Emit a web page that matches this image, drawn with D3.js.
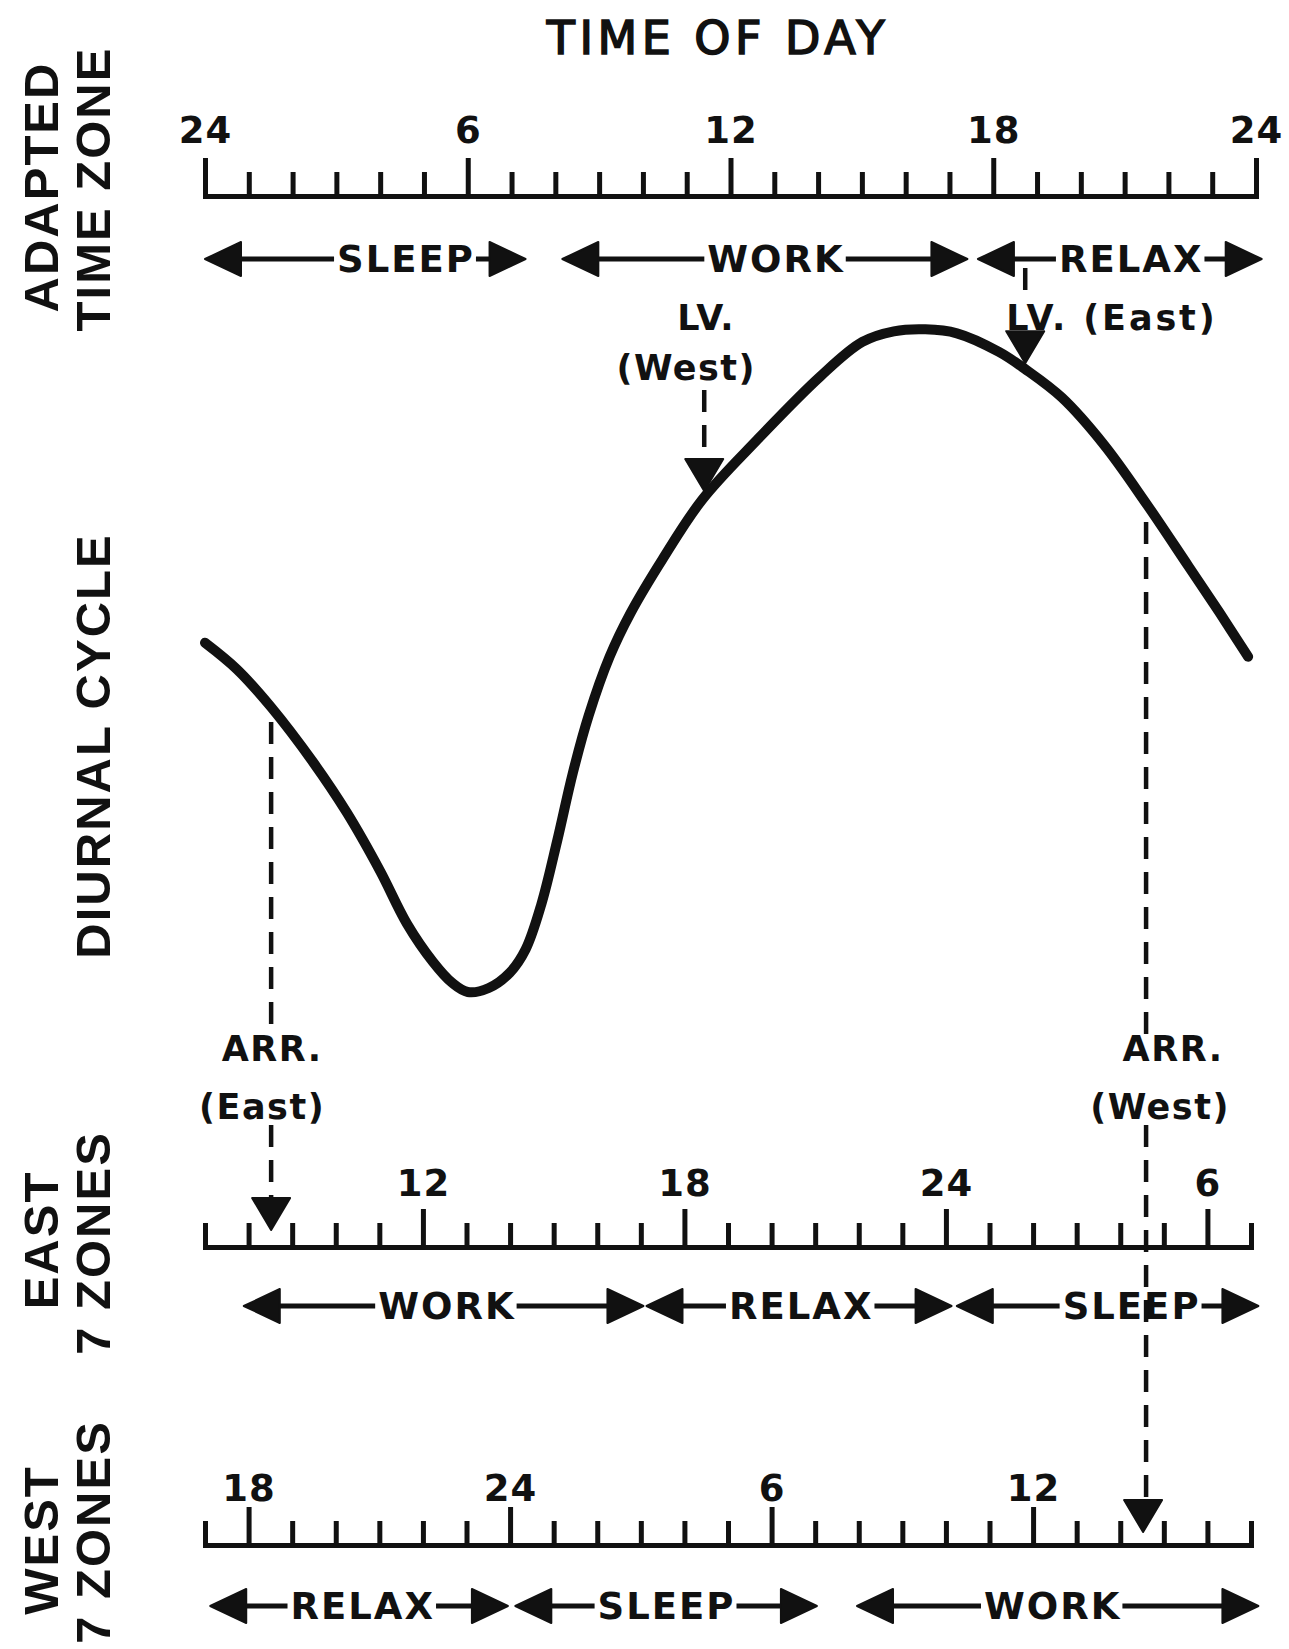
<!DOCTYPE html>
<html>
<head>
<meta charset="utf-8">
<script src="https://cdn.jsdelivr.net/npm/d3@7"></script>
<style>
  body { margin: 0; background: #fff; }
  svg { display: block; }
</style>
</head>
<body>
<svg></svg>
<script>
// diurnal curve (hour in adapted zone, relative level 0-100)
var curveHours  = [0, 0.73, 1.51, 2.47, 3.24, 4.0, 4.61, 5.21, 5.64, 6.0, 6.48, 6.96, 7.32, 7.68, 8.04, 8.40, 8.76, 9.24, 9.72, 10.45, 11.36, 12.6, 14.05, 15.01, 15.73, 16.45, 17.17, 18.13, 18.73, 19.57, 20.53, 21.49, 22.45, 23.17, 23.82];
var curveLevels = [52.6, 48.6, 42.9, 34.6, 27.0, 18.2, 10.3, 4.5, 1.4, 0, 0.6, 2.9, 6.4, 13.2, 22.7, 33.0, 41.6, 50.5, 57.1, 65.2, 74.2, 83.1, 92.7, 97.9, 99.5, 99.8, 99.2, 96.4, 93.8, 89.5, 82.4, 73.6, 64.2, 57.1, 50.5];

// hour scales of the three clocks
var adaptedTicks = [0, 6, 12, 18, 24];
var adaptedTickLabels = ["24", "6", "12", "18", "24"];
var eastTicks = [12, 18, 24, 30];
var eastTickLabels = ["12", "18", "24", "6"];
var westTicks = [18, 24, 30, 36];
var westTickLabels = ["18", "24", "6", "12"];

// activity bands (local hours: start, end, where the word sits)
var adaptedActs  = ["SLEEP", "WORK", "RELAX"];
var adaptedStart = [0, 8.16, 17.65];
var adaptedEnd   = [7.32, 17.41, 24.13];
var adaptedMid   = [4.59, 13.04, 21.15];

var eastActs  = ["WORK", "RELAX", "SLEEP"];
var eastStart = [7.89, 17.13, 24.25];
var eastEnd   = [17.06, 24.13, 31.17];
var eastMid   = [12.55, 20.68, 28.26];

var westActs  = ["RELAX", "SLEEP", "WORK"];
var westStart = [17.12, 24.12, 31.96];
var westEnd   = [23.95, 31.04, 41.17];
var westMid   = [20.62, 27.59, 36.45];

// departure / arrival marks, in adapted hours
var eventNames = ["LV. (West)", "LV. (East)", "ARR. (East)", "ARR. (West)"];
var eventHours = [11.4, 18.73, 1.51, 21.49];

var W = 1289, H = 1649;
var ink = "#111";
var labelFont = "'DejaVu Sans', sans-serif";
var sideFont = "'Liberation Sans', Arial, sans-serif";

var svg = d3.select("svg").attr("width", W).attr("height", H);
svg.append("rect").attr("width", W).attr("height", H).attr("fill", "#fff");

var x = d3.scaleLinear().domain([0, 24]).range([205, 1256]);
var xEast = d3.scaleLinear().domain([7, 31]).range([205, 1251]);
var xWest = d3.scaleLinear().domain([17, 41]).range([205, 1251]);
var y = d3.scaleLinear().domain([0, 100]).range([992, 328]);

// title
svg.append("text")
  .attr("x", 718).attr("y", 37).attr("dy", "0.36em")
  .attr("text-anchor", "middle")
  .attr("font-family", labelFont)
  .attr("font-size", 46).attr("letter-spacing", 4.5)
  .attr("fill", ink).attr("stroke", ink).attr("stroke-width", 1.6)
  .text("TIME OF DAY");

// side labels
function sideLabel(txt, bx, cy) {
  svg.append("text")
    .attr("transform", "translate(" + bx + "," + cy + ") rotate(-90)")
    .attr("text-anchor", "middle")
    .attr("font-family", sideFont).attr("font-weight", "bold")
    .attr("font-size", 49).attr("letter-spacing", 2)
    .attr("fill", ink)
    .text(txt);
}
sideLabel("ADAPTED", 58, 187);
sideLabel("TIME ZONE", 110, 189);
sideLabel("DIURNAL CYCLE", 110, 746);
sideLabel("EAST", 58, 1240);
sideLabel("7 ZONES", 110, 1243);
sideLabel("WEST", 58, 1540);
sideLabel("7 ZONES", 110, 1532);

// hour rulers
function drawAxis(scale, baseY, ticks, labels, labelY) {
  var dom = scale.domain();
  var ax = d3.axisTop(scale)
    .tickValues(d3.range(dom[0], dom[1] + 1))
    .tickSizeOuter(0)
    .tickFormat(function(d) {
      var i = ticks.indexOf(d);
      return i < 0 ? "" : labels[i];
    });
  var g = svg.append("g").attr("transform", "translate(0," + baseY + ")").call(ax);
  g.select(".domain").attr("stroke", ink).attr("stroke-width", 5).attr("stroke-linecap", "square");
  g.selectAll(".tick line")
    .attr("stroke", ink).attr("stroke-width", 5)
    .attr("y2", function(d) { return ticks.indexOf(d) >= 0 ? -38 : -24; });
  g.selectAll(".tick text")
    .attr("y", labelY - baseY).attr("dy", "0.36em")
    .attr("font-family", labelFont).attr("font-weight", "bold")
    .attr("font-size", 37).attr("letter-spacing", 1)
    .attr("fill", ink);
  return g;
}
drawAxis(x, 196, adaptedTicks, adaptedTickLabels, 130);
drawAxis(xEast, 1247, eastTicks, eastTickLabels, 1183);
drawAxis(xWest, 1545, westTicks, westTickLabels, 1488);

// activity arrows
function drawActivities(scale, rowY, names, starts, ends, mids) {
  var head = 36, half = 17, gap = 3;
  names.forEach(function(name, i) {
    var g = svg.append("g");
    var t = g.append("text")
      .attr("x", scale(mids[i])).attr("y", rowY).attr("dy", "0.36em")
      .attr("text-anchor", "middle")
      .attr("font-family", labelFont).attr("font-weight", "bold")
      .attr("font-size", 37).attr("letter-spacing", 2)
      .attr("fill", ink)
      .text(name);
    var bb = t.node().getBBox();
    var x1 = scale(starts[i]), x2 = scale(ends[i]);
    g.append("line")
      .attr("x1", x1 + head - 2).attr("x2", bb.x - gap)
      .attr("y1", rowY).attr("y2", rowY)
      .attr("stroke", ink).attr("stroke-width", 5);
    g.append("line")
      .attr("x1", bb.x + bb.width + gap - 2).attr("x2", x2 - head + 2)
      .attr("y1", rowY).attr("y2", rowY)
      .attr("stroke", ink).attr("stroke-width", 5);
    g.append("path")
      .attr("d", "M" + x1 + "," + rowY + "L" + (x1 + head) + "," + (rowY - half) + "L" + (x1 + head) + "," + (rowY + half) + "Z")
      .attr("fill", ink).attr("stroke", ink).attr("stroke-width", 2).attr("stroke-linejoin", "round");
    g.append("path")
      .attr("d", "M" + x2 + "," + rowY + "L" + (x2 - head) + "," + (rowY - half) + "L" + (x2 - head) + "," + (rowY + half) + "Z")
      .attr("fill", ink).attr("stroke", ink).attr("stroke-width", 2).attr("stroke-linejoin", "round");
  });
}
drawActivities(x, 259, adaptedActs, adaptedStart, adaptedEnd, adaptedMid);
drawActivities(xEast, 1306, eastActs, eastStart, eastEnd, eastMid);
drawActivities(xWest, 1606, westActs, westStart, westEnd, westMid);

// the diurnal curve
var curveData = curveHours.map(function(h, i) { return [h, curveLevels[i]]; });
var line = d3.line()
  .x(function(d) { return x(d[0]); })
  .y(function(d) { return y(d[1]); })
  .curve(d3.curveCatmullRom.alpha(0.5));
var curvePath = svg.append("path")
  .datum(curveData)
  .attr("d", line)
  .attr("fill", "none").attr("stroke", ink)
  .attr("stroke-width", 10).attr("stroke-linecap", "round");

function curveYAt(px) {
  var node = curvePath.node(), lo = 0, hi = node.getTotalLength();
  for (var k = 0; k < 40; k++) {
    var mid = (lo + hi) / 2;
    if (node.getPointAtLength(mid).x < px) lo = mid; else hi = mid;
  }
  return node.getPointAtLength(lo).y;
}

// dashes start at y1 (the end nearest the label)
function dashed(px, y1, y2) {
  svg.append("line")
    .attr("x1", px).attr("x2", px).attr("y1", y1).attr("y2", y2)
    .attr("stroke", ink).attr("stroke-width", 4.5)
    .attr("stroke-dasharray", "22,13");
}
function downTriangle(px, tipY) {
  svg.append("path")
    .attr("d", "M" + (px - 19) + "," + (tipY - 32) + "L" + (px + 19) + "," + (tipY - 32) + "L" + px + "," + tipY + "Z")
    .attr("fill", ink).attr("stroke", ink).attr("stroke-width", 2).attr("stroke-linejoin", "round");
}
function note(txt, px, py, len) {
  var t = svg.append("text")
    .attr("x", px).attr("y", py).attr("dy", "0.36em")
    .attr("text-anchor", "middle")
    .attr("font-family", labelFont).attr("font-weight", "bold")
    .attr("font-size", 35).attr("letter-spacing", 1.5)
    .attr("fill", ink)
    .text(txt);
  if (len) t.attr("textLength", len).attr("lengthAdjust", "spacing");
}

// LV. (West)
var lvW = x(eventHours[0]);
note("LV.", lvW + 2, 317);
note("(West)", lvW - 18, 367);
dashed(lvW, 390, 458);
downTriangle(lvW, curveYAt(lvW) - 6);

// LV. (East)
var lvE = x(eventHours[1]);
dashed(lvE, 268, 292);
note("LV. (East)", lvE + 86, 317, 210);
downTriangle(lvE, curveYAt(lvE) - 6);

// ARR. (East)
var arE = x(eventHours[2]);
dashed(arE, 1024, curveYAt(arE) + 6);
note("ARR.", arE + 1, 1048);
note("(East)", arE - 9, 1106);
dashed(arE, 1125, 1198);
downTriangle(arE, 1230);

// ARR. (West)
var arW = x(eventHours[3]);
dashed(arW, 1034, curveYAt(arW) + 6);
note("ARR.", arW + 27, 1048);
note("(West)", arW + 14, 1106);
dashed(arW, 1125, 1500);
downTriangle(arW - 3, 1532);
</script>
</body>
</html>
